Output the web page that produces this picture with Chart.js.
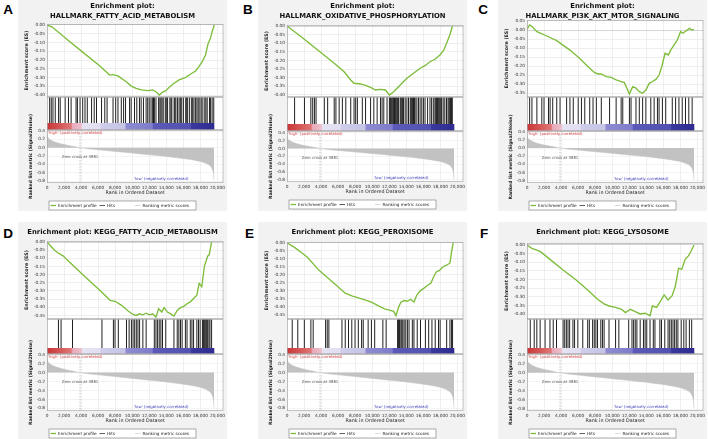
<!DOCTYPE html>
<html><head><meta charset="utf-8">
<script src="https://cdn.jsdelivr.net/npm/chart.js@4.4.1/dist/chart.umd.min.js"></script>
<style>
html,body{margin:0;padding:0;background:#fff;width:708px;height:439px;overflow:hidden;position:relative}
canvas{position:absolute}
.lt{position:absolute;font:bold 13.5px/13.5px "Liberation Sans",Arial,sans-serif;color:#000}
</style></head><body>
<script>
// ---------------- DATA ----------------
const panelLetters = ['A','B','C','D','E','F'];
const panelTitles = [
  ['Enrichment plot:','HALLMARK_FATTY_ACID_METABOLISM'],
  ['Enrichment plot:','HALLMARK_OXIDATIVE_PHOSPHORYLATION'],
  ['Enrichment plot:','HALLMARK_PI3K_AKT_MTOR_SIGNALING'],
  ['Enrichment plot: KEGG_FATTY_ACID_METABOLISM'],
  ['Enrichment plot: KEGG_PEROXISOME'],
  ['Enrichment plot: KEGG_LYSOSOME']
];
const legendLabels = ['Enrichment profile','Hits','Ranking metric scores'];
const xAxisTitle = 'Rank in Ordered Dataset';
const esAxisTitle = 'Enrichment score (ES)';
const metricAxisTitle = 'Ranked list metric (Signal2Noise)';
const highLabel = "'high' (positively correlated)";
const lowLabel = "'low' (negatively correlated)";
const zeroCross = 3881;
const zeroCrossLabel = 'Zero cross at 3881';

// tick values
const rankTicks = [0,2000,4000,6000,8000,10000,12000,14000,16000,18000,20000];
const metricTicks = [0.4,0.2,0,-0.2,-0.4,-0.6,-0.8];
const esTicks040 = [0,-0.05,-0.10,-0.15,-0.20,-0.25,-0.30,-0.35,-0.40];
const esTicksC   = [0.05,0,-0.05,-0.10,-0.15,-0.20,-0.25,-0.30,-0.35];
const esTicks045 = [0,-0.05,-0.10,-0.15,-0.20,-0.25,-0.30,-0.35,-0.40,-0.45];

// enrichment score curves (rank, ES)
const esRankA = [0,581,2326,4264,6202,7364,7752,8333,9302,9884,10465,11046,11822,12403,12791,13178,13566,13954,14341,14923,15504,16279,16861,17442,17830,18217,18605,18915,19186,19380,19574,19600];
const esValA  = [0,-0.010,-0.082,-0.158,-0.234,-0.286,-0.284,-0.291,-0.324,-0.349,-0.362,-0.371,-0.375,-0.371,-0.381,-0.400,-0.383,-0.375,-0.356,-0.333,-0.314,-0.299,-0.280,-0.263,-0.238,-0.210,-0.171,-0.105,-0.076,-0.038,-0.010,0];
const esRankB = [0,1667,3605,5543,6705,7481,7868,8643,9225,9806,10387,10969,11550,12016,12520,13295,14070,14845,15620,16201,16783,17364,17946,18411,18799,19108,19418];
const esValB  = [0,-0.062,-0.139,-0.216,-0.265,-0.313,-0.332,-0.336,-0.344,-0.356,-0.371,-0.367,-0.371,-0.400,-0.381,-0.342,-0.303,-0.274,-0.245,-0.230,-0.207,-0.193,-0.168,-0.139,-0.091,-0.052,0];
const esRankC = [0,310,620,1163,2326,3488,5039,6202,7171,7946,8333,8721,9302,9884,10465,11046,11434,12016,12403,12791,13178,13566,13954,14341,14729,15116,15504,15814,16202,16589,16861,17248,17636,18023,18295,18682,19070,19350,19600];
const esValC  = [0.004,0.028,0.018,-0.009,-0.033,-0.059,-0.111,-0.157,-0.203,-0.236,-0.243,-0.243,-0.258,-0.262,-0.276,-0.285,-0.291,-0.354,-0.313,-0.321,-0.341,-0.350,-0.332,-0.295,-0.285,-0.273,-0.249,-0.203,-0.129,-0.138,-0.111,-0.083,-0.055,-0.009,-0.018,-0.004,0.009,0,0.004];
const esRankD = [0,883,1267,1843,2419,4339,6259,7411,7987,8755,9523,10099,10483,10867,11251,11635,12019,12403,12787,13094,13478,13747,14131,14515,14899,15283,15667,16051,16435,16819,17203,17587,17856,18163,18470,18700,18854,19046,19315];
const esValD  = [0,-0.050,-0.066,-0.083,-0.112,-0.207,-0.299,-0.357,-0.363,-0.388,-0.423,-0.444,-0.450,-0.440,-0.446,-0.436,-0.446,-0.440,-0.461,-0.409,-0.429,-0.402,-0.429,-0.440,-0.454,-0.419,-0.402,-0.394,-0.378,-0.367,-0.346,-0.326,-0.253,-0.274,-0.149,-0.112,-0.087,-0.077,0];
const esRankE = [0,883,1843,2419,3763,5683,6835,7603,8371,9139,9907,10675,11443,12019,12518,12787,13094,13363,13747,14131,14515,14899,15206,15590,15974,16435,16896,17203,17510,17894,18278,18739,19123,19315,19507];
const esValE  = [0,-0.029,-0.067,-0.092,-0.172,-0.260,-0.314,-0.331,-0.343,-0.356,-0.370,-0.391,-0.412,-0.419,-0.427,-0.454,-0.402,-0.370,-0.360,-0.364,-0.352,-0.370,-0.329,-0.301,-0.287,-0.268,-0.251,-0.213,-0.182,-0.172,-0.151,-0.140,-0.126,-0.057,0];
const esRankF = [0,578,1155,1617,2695,4235,5775,7315,8278,9048,9625,10395,11088,11550,12128,12705,13283,13860,14438,14707,15208,15708,16093,16555,17017,17402,17787,18172,18557,18942,19327,19600];
const esValF  = [0,-0.019,-0.029,-0.040,-0.083,-0.144,-0.202,-0.269,-0.313,-0.340,-0.352,-0.360,-0.371,-0.390,-0.371,-0.385,-0.398,-0.394,-0.408,-0.352,-0.360,-0.321,-0.288,-0.317,-0.294,-0.240,-0.135,-0.140,-0.083,-0.063,-0.029,0];

// gene-set hit positions (rank)
const hitsA = [310,500,700,970,1360,1550,2130,2520,2830,3410,3570,3880,4190,4460,4730,5230,5540,5810,6400,6780,7050,7750,8060,8330,8720,8990,9220,9690,9880,10270,10540,10850,11050,11320,11630,11820,12000,12210,12400,12500,12600,12790,13100,13250,13370,13500,13640,13880,14000,14150,14420,14550,14650,14920,15000,15120,15310,15500,15650,15810,16010,16280,16400,16510,16740,16980,17100,17250,17440,17600,17750,17940,18100,18290,18520,18650,18800,19070,19200,19380,19570];
const hitsB = [890,2050,2800,3020,3220,3410,4380,4770,5540,5740,6120,6500,6900,7480,7870,8060,8260,8840,9220,9810,10190,10580,10970,11160,11360,11740,12020,12130,12230,12330,12430,12520,12620,12710,12810,12910,13000,13100,13290,13390,13490,13580,13680,13870,14070,14260,14460,14560,14650,14750,14850,14950,15040,15240,15430,15620,15820,16010,16200,16500,16780,16970,17170,17360,17460,17560,17650,17750,17850,17950,18050,18150,18330,18520,18720,18900,19010,19110,19200,19300,19400];
const hitsC = [310,580,1160,1740,2000,2520,2710,3020,3490,3880,4650,5040,5430,6010,6390,6780,7360,7750,8140,8720,9690,10460,11050,11240,12020,12210,12790,13180,13570,13950,14530,14920,15310,15500,15890,16280,17050,17440,17830,18220,18600,18990,19380];
const hitsD = [1344,1651,2995,6451,7795,7987,8371,9331,9638,9907,10099,10291,10483,10675,10867,11251,11635,12595,12787,12979,13171,13363,13555,13939,14899,15283,15475,15667,15859,16243,16435,16819,17011,17203,17587,17779,17971,18240,18355,18470,18624,18739,18854,19008,19123,19315];
const hitsE = [614,1267,2035,2803,3072,4531,4723,4915,6451,6835,7219,7603,7987,8371,8755,8947,9523,9907,10291,11251,11635,12979,13094,13210,13363,13478,13594,13747,13939,14131,14323,14707,14899,15283,15667,16243,16627,17011,17395,17779,17971,18739,19123,19315,19430];
const hitsF = [385,847,1155,1540,2118,2695,3080,3465,4235,4428,4620,4813,5005,5390,5583,5968,6545,7123,7315,7700,7893,8085,8278,8663,8855,9048,9625,10395,10780,11935,12320,12513,12705,12898,13283,13668,13860,14053,14438,14823,15015,15593,15785,16170,16555,16748,16940,17133,17325,17518,17710,18095,18403,18673,19058,19327];

// ranked list metric (shared by all panels)
const metricRank = [0,60,150,300,600,1000,1500,2000,2500,3000,3500,3881,5000,6000,7000,8000,9000,10000,11000,12000,13000,14000,15000,16000,17000,18000,18600,19000,19300,19450,19550,19600];
const metricVal  = [0.30,0.26,0.23,0.20,0.165,0.13,0.10,0.075,0.055,0.035,0.015,0,-0.03,-0.05,-0.07,-0.09,-0.11,-0.13,-0.15,-0.17,-0.19,-0.21,-0.235,-0.26,-0.29,-0.33,-0.37,-0.41,-0.47,-0.54,-0.62,-0.78];

// colour bar of the ranked list
const barEdges = [0,2900,4100,6300,9200,12400,16900,19600];
const barFrom  = ['#c93434','#e8a6b8','#e6e4f3','#cfcdea','#8d8bd2','#5c5ab8','#3a389e'];
const barTo    = ['#e07878','#eec0cf','#e0def0','#c6c4e6','#7f7dca','#5250b0','#2e2c90'];

const esRanks = [esRankA,esRankB,esRankC,esRankD,esRankE,esRankF];
const esVals  = [esValA,esValB,esValC,esValD,esValE,esValF];
const hitSets = [hitsA,hitsB,hitsC,hitsD,hitsE,hitsF];
const esTickSets = [esTicks040,esTicks040,esTicksC,esTicks045,esTicks045,esTicks040];

// ---------------- LAYOUT ----------------
const FONT = '"DejaVu Sans", "Liberation Sans", sans-serif';
const GREEN = '#7dbd3b';
const XH = 14;
const GEOM = [
  {left:18, top:0, h:211, esTop:24, esBot:97, hitBot:123, barBot:130, metBot:183, esMin:-0.4114, esMax:0.0057, metMin:-0.848, metMax:0.424, tl:[8,17.5]},
  {left:258,top:0, h:211, esTop:25, esBot:97, hitBot:124, barBot:131, metBot:182, esMin:-0.4116, esMax:0.0058, metMin:-0.851, metMax:0.443, tl:[8,17.5]},
  {left:498,top:0, h:211, esTop:20, esBot:97, hitBot:124, barBot:131, metBot:183, esMin:-0.3705, esMax:0.0555, metMin:-0.856, metMax:0.417, tl:[8,17.5]},
  {left:18, top:222,h:217, esTop:19, esBot:97, hitBot:126, barBot:132, metBot:189, esMin:-0.4716, esMax:0.0062, metMin:-0.86, metMax:0.416, tl:[12.3]},
  {left:258,top:222,h:217, esTop:20, esBot:97, hitBot:126, barBot:132, metBot:189, esMin:-0.4747, esMax:0.0044, metMin:-0.86, metMax:0.416, tl:[12.3]},
  {left:498,top:222,h:217, esTop:21, esBot:97, hitBot:126, barBot:132, metBot:189, esMin:-0.4271, esMax:0.0115, metMin:-0.844, metMax:0.4155, tl:[12.3]}
];
const LETTERPOS = [[3.3,3.2],[243,3.2],[478.3,3.2],[3.3,226.7],[245,226.7],[480,226.7]];

const gsea = {
  id:'gsea',
  beforeDraw(chart){
    const {ctx,width,height,chartArea:ca} = chart;
    ctx.save();
    ctx.fillStyle = '#f2f2f2'; ctx.fillRect(0,0,width,height);
    ctx.fillStyle = '#ffffff'; ctx.fillRect(ca.left,ca.top,ca.right-ca.left,ca.bottom-ca.top);
    ctx.restore();
  },
  beforeDatasetsDraw(chart){
    const {ctx,chartArea:ca,scales} = chart;
    const x = scales.x, h = scales.yHits, b = scales.yBar, m = scales.yMet;
    ctx.save();
    ctx.fillStyle = '#ffffff';
    ctx.fillRect(ca.left,h.top,ca.right-ca.left,b.bottom-h.top);
    for (let i=0;i<barEdges.length-1;i++){
      const x0 = x.getPixelForValue(barEdges[i]), x1 = x.getPixelForValue(barEdges[i+1]);
      const gr = ctx.createLinearGradient(x0,0,x1,0);
      gr.addColorStop(0,barFrom[i]); gr.addColorStop(1,barTo[i]);
      ctx.fillStyle = gr;
      ctx.fillRect(x0,b.top,x1-x0+0.3,b.bottom-b.top);
    }
    const xz = x.getPixelForValue(zeroCross);
    ctx.setLineDash([1.5,1.5]); ctx.strokeStyle = '#999'; ctx.lineWidth = 0.6;
    ctx.beginPath(); ctx.moveTo(xz,m.top); ctx.lineTo(xz,m.bottom); ctx.stroke();
    ctx.restore();
  },
  afterDatasetsDraw(chart){
    const {ctx,chartArea:ca,scales} = chart;
    const x = scales.x, e = scales.yES, h = scales.yHits, b = scales.yBar, m = scales.yMet;
    ctx.save();
    ctx.strokeStyle = '#a8a8a8'; ctx.lineWidth = 0.7;
    [[e.top,e.bottom],[h.top,b.bottom],[m.top,m.bottom]].forEach(([t,bt])=>{
      ctx.strokeRect(ca.left+0.35,t+0.35,ca.right-ca.left-0.7,bt-t-0.7);
    });
    ctx.font = '3.9px ' + FONT; ctx.textBaseline = 'middle';
    ctx.fillStyle = '#cc3b3b'; ctx.textAlign = 'left';
    ctx.fillText(highLabel, ca.left+1, m.top+3.2);
    ctx.fillStyle = '#555'; ctx.textAlign = 'center';
    ctx.fillText(zeroCrossLabel, x.getPixelForValue(zeroCross), m.getPixelForValue(0)+9.5);
    ctx.fillStyle = '#3a3ab8';
    ctx.fillText(lowLabel, x.getPixelForValue(13400), m.bottom-4);
    ctx.restore();
  },
  afterDraw(chart,args,opts){
    const {ctx,width} = chart;
    const g = opts.geom;
    ctx.save();
    ctx.fillStyle = '#111'; ctx.textAlign = 'center'; ctx.textBaseline = 'alphabetic';
    ctx.font = 'bold 6.85px ' + FONT;
    opts.title.forEach((t,i)=>ctx.fillText(t,width/2,g.tl[i]));
    const bw = 147, bh = 9, bx = (width-bw)/2, by = g.metBot+18;
    ctx.fillStyle = '#fff'; ctx.fillRect(bx,by,bw,bh);
    ctx.strokeStyle = '#777'; ctx.lineWidth = 0.6; ctx.strokeRect(bx,by,bw,bh);
    const offs = [1.5,50.5,86];
    const cy = by+bh/2;
    chart.data.datasets.forEach((ds,i)=>{
      ctx.strokeStyle = ds.legendColor; ctx.lineWidth = ds.legendWidth;
      ctx.beginPath(); ctx.moveTo(bx+offs[i],cy); ctx.lineTo(bx+offs[i]+5.5,cy); ctx.stroke();
      ctx.fillStyle = '#222'; ctx.textAlign = 'left'; ctx.textBaseline = 'middle';
      ctx.font = '4.2px ' + FONT;
      ctx.fillText(ds.label, bx+offs[i]+7.5, cy);
    });
    ctx.restore();
  }
};

function setTicks(values){ return s=>{ s.ticks = values.map(v=>({value:v})); }; }

function makePanel(i){
  const g = GEOM[i];
  const lt = document.createElement('div');
  lt.className = 'lt'; lt.textContent = panelLetters[i];
  lt.style.left = LETTERPOS[i][0]+'px'; lt.style.top = LETTERPOS[i][1]+'px';
  document.body.appendChild(lt);
  const cv = document.createElement('canvas');
  cv.width = 209; cv.height = g.h;
  cv.style.left = g.left+'px'; cv.style.top = g.top+'px';
  cv.style.width = '209px'; cv.style.height = g.h+'px';
  document.body.appendChild(cv);

  const es = esRanks[i].map((r,k)=>({x:r,y:esVals[i][k]}));
  const hits = [];
  hitSets[i].forEach(r=>{ hits.push({x:r,y:0},{x:r,y:1},{x:r,y:null}); });
  const met = metricRank.map((r,k)=>({x:r,y:metricVal[k]}));
  const fit = s=>{ s.width = 29; };
  const tickFont = {family:FONT,size:4.3};

  new Chart(cv,{
    type:'line',
    data:{datasets:[
      {label:legendLabels[0],data:es,yAxisID:'yES',borderColor:GREEN,borderWidth:1.35,pointRadius:0,fill:false,legendColor:GREEN,legendWidth:1.3},
      {label:legendLabels[1],data:hits,yAxisID:'yHits',borderColor:'#141414',borderWidth:0.95,pointRadius:0,fill:false,spanGaps:false,legendColor:'#333',legendWidth:0.8},
      {label:legendLabels[2],data:met,yAxisID:'yMet',borderColor:'#c2c2c2',backgroundColor:'#c2c2c2',borderWidth:0.5,pointRadius:0,fill:'origin',legendColor:'#cfcfcf',legendWidth:0.8}
    ]},
    options:{
      responsive:false, animation:false, devicePixelRatio:1,
      layout:{padding:{top:g.esTop,left:0,right:2,bottom:g.h-g.metBot-XH}},
      plugins:{legend:{display:false},title:{display:false},tooltip:{enabled:false},
        gsea:{geom:g,title:panelTitles[i]}},
      scales:{
        x:{type:'linear',position:'bottom',min:0,max:20700,
          afterFit(s){ s.height = XH; }, afterBuildTicks:setTicks(rankTicks),
          ticks:{autoSkip:false,maxRotation:0,font:tickFont,color:'#333',padding:2,
            callback:v=>Number(v).toLocaleString('en-US')},
          grid:{color:'#e4e4e4',lineWidth:0.6,drawTicks:false},border:{display:false},
          title:{display:true,text:xAxisTitle,font:{family:FONT,size:4.8},color:'#222',padding:{top:0,bottom:1}}},
        yMet:{type:'linear',position:'left',stack:'p',stackWeight:g.metBot-g.barBot,min:g.metMin,max:g.metMax,
          afterFit:fit, afterBuildTicks:setTicks(metricTicks),
          ticks:{autoSkip:false,font:tickFont,color:'#333',padding:2,callback:v=>Number(v).toFixed(1)},
          grid:{color:'#ececec',lineWidth:0.6,drawTicks:false},border:{display:false},
          title:{display:true,text:metricAxisTitle,font:{family:FONT,size:4.5,weight:'bold'},color:'#222',padding:{top:9.8,bottom:0}}},
        yBar:{type:'linear',position:'left',stack:'p',stackWeight:g.barBot-g.hitBot,min:0,max:1,afterFit:fit,
          ticks:{display:false},grid:{display:false},border:{display:false}},
        yHits:{type:'linear',position:'left',stack:'p',stackWeight:g.hitBot-g.esBot,min:0,max:1,afterFit:fit,
          ticks:{display:false},grid:{display:false},border:{display:false}},
        yES:{type:'linear',position:'left',stack:'p',stackWeight:g.esBot-g.esTop,min:g.esMin,max:g.esMax,
          afterFit:fit, afterBuildTicks:setTicks(esTickSets[i]),
          ticks:{autoSkip:false,font:tickFont,color:'#333',padding:2,callback:v=>Number(v).toFixed(2)},
          grid:{color:c=>Math.abs(c.tick.value)<1e-9?'#b8b8b8':'#e4e4e4',lineWidth:0.6,drawTicks:false},border:{display:false},
          title:{display:true,text:esAxisTitle,font:{family:FONT,size:4.8,weight:'bold'},color:'#222',padding:{top:6.1,bottom:0}}}
      }
    },
    plugins:[gsea]
  });
}
for (let i=0;i<6;i++) makePanel(i);
</script>
</body></html>
